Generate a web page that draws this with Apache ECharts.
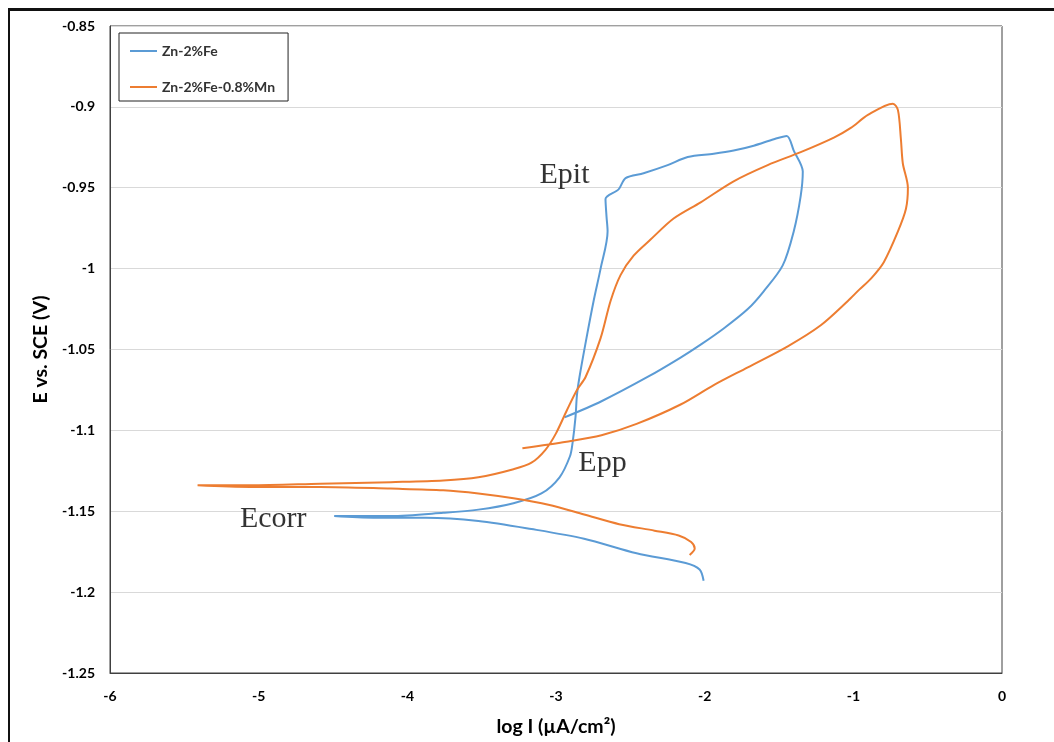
<!DOCTYPE html>
<html>
<head>
<meta charset="utf-8">
<script src="https://cdn.jsdelivr.net/npm/echarts@6/dist/echarts.min.js"></script>
<style>
html,body{margin:0;padding:0;background:#fff;}
#frame{position:absolute;left:8px;top:8px;width:1100px;height:800px;border-left:2px solid #111;border-top:3px solid #111;box-sizing:border-box;}
#chart{position:absolute;left:0;top:0;width:1054px;height:742px;}
</style>
</head>
<body>
<div id="chart"></div>
<div id="frame"></div>
<script>
// Zn-2%Fe (from cathodic end -> Ecorr -> anodic -> reverse scan)
const feX = [-2.007,-2.034,-2.128,-2.458,-2.811,-3.165,-3.522,-3.875,-4.229,-4.492,
  -4.111,-3.758,-3.522,-3.286,-3.098,-2.976,-2.906,-2.889,-2.869,-2.859,-2.842,-2.795,-2.747,-2.700,-2.653,-2.660,-2.667,
  -2.579,-2.532,-2.411,-2.249,-2.114,-1.939,-1.805,-1.670,-1.535,-1.448,
  -1.401,-1.340,-1.354,-1.401,-1.475,-1.603,-1.710,-1.872,-2.027,-2.162,-2.384,-2.694,-2.943];
const feY = [-1.193,-1.186,-1.182,-1.176,-1.167,-1.161,-1.156,-1.154,-1.154,-1.153,
  -1.153,-1.151,-1.149,-1.145,-1.139,-1.129,-1.116,-1.108,-1.092,-1.078,-1.067,-1.043,-1.020,-1.000,-0.977,-0.968,-0.957,
  -0.951,-0.944,-0.941,-0.936,-0.931,-0.929,-0.927,-0.924,-0.920,-0.918,
  -0.927,-0.940,-0.955,-0.977,-0.998,-1.014,-1.025,-1.037,-1.047,-1.055,-1.067,-1.082,-1.092];

// Zn-2%Fe-0.8%Mn
const mnX = [-2.101,-2.067,-2.091,-2.175,-2.337,-2.575,-2.811,-3.051,-3.286,-3.522,-3.758,-4.111,-4.586,-5.057,-5.411,
  -5.057,-4.586,-4.111,-3.758,-3.522,-3.286,-3.165,-3.071,-3.001,-2.929,-2.859,-2.801,-2.700,-2.633,-2.566,-2.478,-2.364,
  -2.209,-2.027,-1.805,-1.576,-1.354,-1.131,-1.017,-0.902,-0.734,
  -0.700,-0.680,-0.667,-0.633,-0.646,-0.700,-0.795,-0.880,-0.960,-1.037,-1.219,-1.441,-1.710,-1.939,-2.162,-2.458,-2.694,-2.929,-3.226];
const mnY = [-1.177,-1.173,-1.169,-1.165,-1.162,-1.158,-1.152,-1.146,-1.142,-1.139,-1.137,-1.136,-1.135,-1.135,-1.134,
  -1.134,-1.133,-1.132,-1.131,-1.129,-1.124,-1.120,-1.112,-1.102,-1.088,-1.075,-1.067,-1.043,-1.020,-1.004,-0.992,-0.982,
  -0.969,-0.959,-0.946,-0.936,-0.928,-0.919,-0.913,-0.905,-0.898,
  -0.902,-0.920,-0.935,-0.950,-0.963,-0.977,-0.996,-1.006,-1.013,-1.020,-1.035,-1.048,-1.061,-1.072,-1.084,-1.096,-1.103,-1.107,-1.111];

const seriesNames = ['Zn-2%Fe', 'Zn-2%Fe-0.8%Mn'];
const noteLabels = ['Epit', 'Epp', 'Ecorr'];
const noteX = [-2.943, -2.687, -4.902];
const noteY = [-0.9425, -1.1200, -1.155];

const zip = (xs, ys) => xs.map((x, i) => [x, ys[i]]);

const chart = echarts.init(document.getElementById('chart'), null, {renderer: 'canvas'});
const tickFont = {fontFamily: 'Lato', fontWeight: 'bold', fontSize: 14, color: '#000'};
const titleFont = {fontFamily: 'Lato', fontWeight: 'bold', fontSize: 19.5, color: '#000'};

chart.setOption({
  animation: false,
  backgroundColor: '#fff',
  grid: {left: 110, right: 52, top: 26, bottom: 64, show: true, borderColor: '#404040', borderWidth: 1, containLabel: false},
  legend: {
    orient: 'vertical', left: 119, top: 33,
    data: seriesNames,
    icon: 'rect', itemWidth: 27, itemHeight: 2, itemGap: 20,
    padding: [10, 13, 6, 11],
    borderColor: '#222', borderWidth: 1, backgroundColor: '#fff',
    textStyle: {fontFamily: 'Lato', fontSize: 14, fontWeight: 'bold', color: '#333', lineHeight: 16}
  },
  xAxis: {
    type: 'value', min: -6, max: 0, interval: 1,
    name: 'log I (µA/cm²)', nameLocation: 'middle', nameGap: 44,
    nameTextStyle: titleFont,
    axisLine: {show: true, onZero: false, lineStyle: {color: '#404040'}},
    axisTick: {show: false},
    splitLine: {show: false},
    axisLabel: Object.assign({margin: 16}, tickFont)
  },
  yAxis: {
    type: 'value', min: -1.25, max: -0.85, interval: 0.05,
    name: 'E vs. SCE (V)', nameLocation: 'middle', nameGap: 54, nameRotate: 90,
    nameTextStyle: titleFont,
    axisLine: {show: true, onZero: false, lineStyle: {color: '#404040'}},
    axisTick: {show: false},
    splitLine: {show: true, lineStyle: {color: '#d9d9d9', width: 1}},
    axisLabel: Object.assign({margin: 15}, tickFont)
  },
  series: [
    {
      name: seriesNames[0], type: 'line', data: zip(feX, feY),
      showSymbol: false, symbol: 'none', smooth: 0.3,
      lineStyle: {color: '#5B9BD5', width: 2}, itemStyle: {color: '#5B9BD5'}
    },
    {
      name: seriesNames[1], type: 'line', data: zip(mnX, mnY),
      showSymbol: false, symbol: 'none', smooth: 0.3,
      lineStyle: {color: '#ED7D31', width: 2}, itemStyle: {color: '#ED7D31'}
    },
    {
      name: 'notes', type: 'scatter', symbolSize: 0, silent: true,
      data: noteX.map((x, i) => ({value: [x, noteY[i]], name: noteLabels[i]})),
      label: {show: true, position: 'inside', formatter: p => p.name,
        fontFamily: 'Liberation Serif', fontSize: 30, color: '#000', textBorderWidth: 0}
    }
  ]
});
</script>
</body>
</html>
